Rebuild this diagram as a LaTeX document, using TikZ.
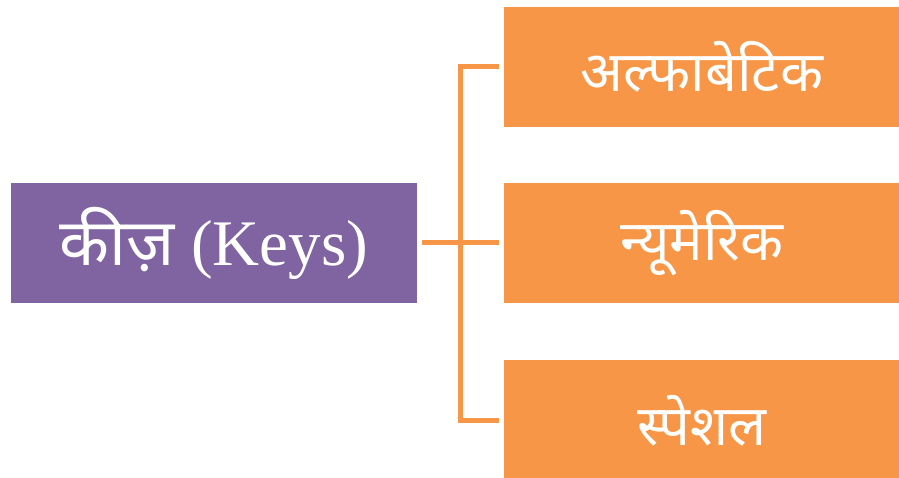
\documentclass[tikz,border=0pt]{standalone}
\usepackage{fontspec}
\setmainfont{Liberation Serif}
\newfontfamily\devfont[Script=Devanagari]{Noto Sans}
\usetikzlibrary{positioning}
\definecolor{keyspurple}{HTML}{8064A2}
\definecolor{keysorange}{HTML}{F79646}

\begin{document}
\begin{tikzpicture}[x=1pt, y=-1pt,
    keybox/.style={fill=keyspurple, text=white, minimum width=406pt, minimum height=120pt, inner sep=0pt, font=\fontsize{65}{75}\selectfont},
    typebox/.style={fill=keysorange, text=white, minimum width=395pt, minimum height=120pt, inner sep=0pt, font=\devfont\fontsize{56}{66}\selectfont},
    link/.style={draw=keysorange, line width=5pt}]
    \useasboundingbox (0,0) rectangle (899,478);

    \node[keybox] (keys) at (214,243) {{\devfont कीज़} (Keys)};
    \node[typebox] (numeric) [right=87pt of keys] {न्यूमेरिक};
    \node[typebox] (alpha) [above=56pt of numeric] {अल्फाबेटिक};
    \node[typebox] (special) [below=57pt of numeric] {स्पेशल};

    \draw[link] ([xshift=5pt]keys.east) -- ([xshift=-5pt]numeric.west);
    \draw[link] ([xshift=-5pt]alpha.west) -- ++(-38.5,0) |- ([xshift=-5pt]special.west);
\end{tikzpicture}
\end{document}
